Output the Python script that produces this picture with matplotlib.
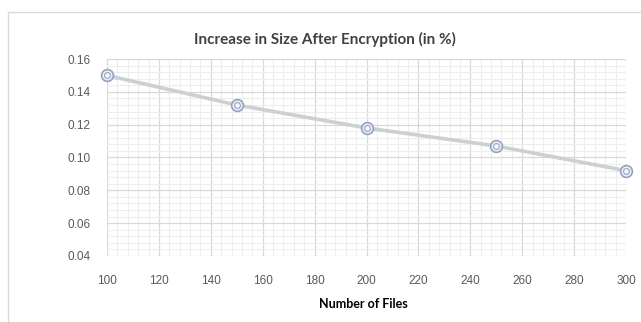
import matplotlib
matplotlib.use("Agg")
import matplotlib.pyplot as plt
from matplotlib.patches import Rectangle
from matplotlib.ticker import MultipleLocator, FormatStrFormatter

# Data
num_files = [100, 150, 200, 250, 300]
size_increase = [0.150, 0.132, 0.118, 0.107, 0.092]

title_text = "Increase in Size After Encryption (in %)"
xlabel_text = "Number of Files"

fig = plt.figure(figsize=(6.41, 3.22), dpi=100)
fig.patch.set_facecolor("white")

# Chart-area frame
fig.patches.append(Rectangle((8 / 641, -0.1), 1.1, 1 - 12 / 322 + 0.1,
                             transform=fig.transFigure, fill=False,
                             edgecolor="#d9d9d9", linewidth=1.0))

ax = fig.add_axes([107 / 641, 1 - 256 / 322, (626 - 107) / 641, (256 - 59) / 322])
ax.set_xlim(100, 300)
ax.set_ylim(0.04, 0.16)

ax.xaxis.set_major_locator(MultipleLocator(20))
ax.xaxis.set_minor_locator(MultipleLocator(4))
ax.yaxis.set_major_locator(MultipleLocator(0.02))
ax.yaxis.set_minor_locator(MultipleLocator(0.004))
ax.yaxis.set_major_formatter(FormatStrFormatter("%.2f"))

ax.grid(which="major", color="#d9d9d9", linewidth=0.9)
ax.grid(which="minor", color="#ededed", linewidth=0.8)
ax.set_axisbelow(True)
for s in ax.spines.values():
    s.set_visible(False)
ax.tick_params(which="both", length=0, colors="#595959", labelsize=8.5)
ax.tick_params(axis="x", pad=14)
ax.tick_params(axis="y", pad=12)
for lbl in ax.get_xticklabels() + ax.get_yticklabels():
    lbl.set_family("Liberation Sans")

ax.plot(num_files, size_increase, color="#cbd0d3", linewidth=2.6,
        solid_capstyle="round", zorder=3, clip_on=False)
ax.plot(num_files, size_increase, linestyle="none", marker="o", markersize=8.5,
        markerfacecolor="#eef0f6", markeredgecolor="#95a2bf",
        markeredgewidth=1.2, zorder=4, clip_on=False)
ax.plot(num_files, size_increase, linestyle="none", marker="o", markersize=4.2,
        markerfacecolor="#f8f9fc", markeredgecolor="#9eaac5",
        markeredgewidth=0.9, zorder=5, clip_on=False)

fig.text(324.5 / 641, 1 - 39 / 322, title_text, ha="center", va="center",
         fontsize=11, fontweight="bold", color="#404040", family="Lato")
fig.text(363 / 641, 1 - 304 / 322, xlabel_text, ha="center", va="center",
         fontsize=9, fontweight="bold", color="#000000", family="Lato")

fig.savefig("out.png", dpi=100, facecolor="white")
